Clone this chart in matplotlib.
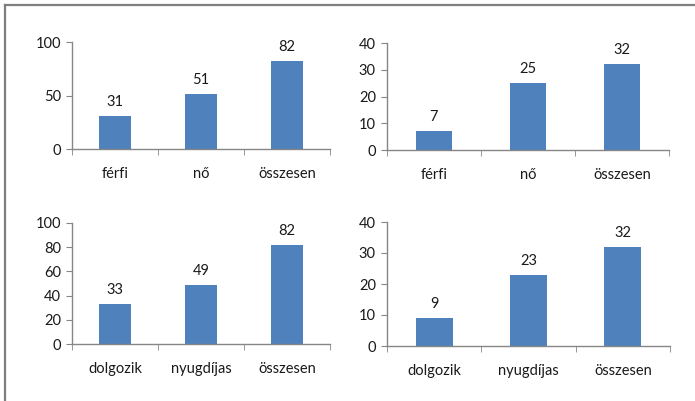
import matplotlib
matplotlib.use('Agg')
import matplotlib.pyplot as plt
from matplotlib.lines import Line2D

plt.rcParams['font.family'] = ['Lato', 'DejaVu Sans']
plt.rcParams['font.size'] = 10.5

# adatok
nem_kat = ['férfi', 'nő', 'összesen']
munka_kat = ['dolgozik', 'nyugdíjas', 'összesen']
bal_felso = [31, 51, 82]
jobb_felso = [7, 25, 32]
bal_also = [33, 49, 82]
jobb_also = [9, 23, 32]

BLUE = '#4F81BD'
AXIS = '#868686'

W, H = 695, 401
fig = plt.figure(figsize=(W / 100, H / 100), dpi=100)

# keret (csak felül és bal oldalt)
fig.add_artist(Line2D([5 / W, 1], [1 - 5 / H, 1 - 5 / H], color='#7f7f7f', lw=1.6))
fig.add_artist(Line2D([5 / W, 5 / W], [0, 1 - 5 / H], color='#7f7f7f', lw=1.6))


def panel(left, right, top, bottom, cats, vals, ymax, ystep, bw):
    ax = fig.add_axes([left / W, 1 - bottom / H, (right - left) / W, (bottom - top) / H])
    x = range(len(cats))
    ax.bar(x, vals, width=bw, color=BLUE, zorder=2)
    for xi, v in zip(x, vals):
        ax.annotate(str(v), (xi, v), xytext=(0, 5), textcoords='offset points',
                    ha='center', va='bottom', color='#1a1a1a')
    ax.set_xlim(-0.5, len(cats) - 0.5)
    ax.set_ylim(0, ymax)
    ax.set_yticks(range(0, ymax + 1, ystep))
    ax.set_xticks(list(x))
    ax.set_xticklabels(cats)
    ax.set_xticks([i - 0.5 for i in range(len(cats) + 1)], minor=True)
    ax.tick_params(axis='x', which='major', length=0, pad=13, colors='#1a1a1a')
    ax.tick_params(axis='x', which='minor', length=4, color=AXIS, direction='out')
    ax.tick_params(axis='y', length=4, color=AXIS, pad=4, labelcolor='#1a1a1a')
    for s in ['top', 'right']:
        ax.spines[s].set_visible(False)
    for s in ['left', 'bottom']:
        ax.spines[s].set_color(AXIS)
        ax.spines[s].set_linewidth(1.0)
    return ax


panel(72, 330, 42, 149, nem_kat, bal_felso, 100, 50, 0.38)
panel(387, 669, 43, 150, nem_kat, jobb_felso, 40, 10, 0.39)
panel(72, 330, 223, 344, munka_kat, bal_also, 100, 20, 0.38)
panel(387, 670, 222, 346, munka_kat, jobb_also, 40, 10, 0.39)

fig.savefig('out.png', dpi=100)
